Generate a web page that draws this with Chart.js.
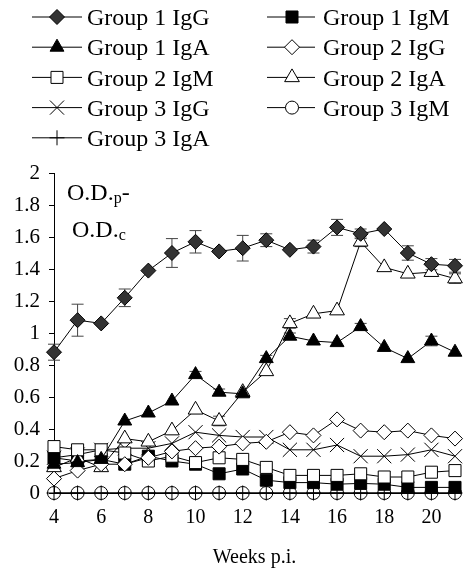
<!DOCTYPE html>
<html>
<head>
<meta charset="utf-8">
<script src="https://cdn.jsdelivr.net/npm/chart.js@4.4.1/dist/chart.umd.min.js"></script>
<style>
  html, body { margin: 0; padding: 0; background: #fff; }
  #wrap { width: 466px; height: 570px; }
</style>
</head>
<body>
<div id="wrap"><canvas id="chart" width="466" height="570"></canvas></div>
<script>
// weeks post infection
const weeks = [4, 5, 6, 7, 8, 9, 10, 11, 12, 13, 14, 15, 16, 17, 18, 19, 20, 21];

// O.D.p - O.D.c per series
const g1IgG = [0.88, 1.08, 1.06, 1.22, 1.39, 1.50, 1.57, 1.51, 1.53, 1.58, 1.52, 1.54, 1.66, 1.62, 1.65, 1.50, 1.43, 1.42];
const g1IgM = [0.22, 0.20, 0.21, 0.18, 0.23, 0.20, 0.18, 0.12, 0.15, 0.08, 0.065, 0.065, 0.055, 0.06, 0.055, 0.035, 0.035, 0.035];
const g1IgA = [0.18, 0.19, 0.21, 0.45, 0.50, 0.575, 0.74, 0.63, 0.62, 0.84, 0.98, 0.95, 0.94, 1.04, 0.91, 0.84, 0.95, 0.88];
const g2IgG = [0.09, 0.14, 0.18, 0.18, 0.22, 0.26, 0.28, 0.29, 0.31, 0.32, 0.38, 0.36, 0.46, 0.39, 0.38, 0.39, 0.36, 0.34];
const g2IgM = [0.29, 0.27, 0.27, 0.25, 0.20, 0.23, 0.19, 0.22, 0.21, 0.16, 0.11, 0.11, 0.11, 0.12, 0.10, 0.10, 0.13, 0.14];
const g2IgA = [0.16, 0.22, 0.16, 0.34, 0.32, 0.39, 0.52, 0.45, 0.63, 0.76, 1.06, 1.12, 1.14, 1.57, 1.41, 1.37, 1.38, 1.34];
const g3IgG = [0.22, 0.24, 0.27, 0.28, 0.28, 0.31, 0.38, 0.36, 0.35, 0.35, 0.27, 0.27, 0.30, 0.23, 0.23, 0.24, 0.27, 0.23];
const g3IgM = [0, 0, 0, 0, 0, 0, 0, 0, 0, 0, 0, 0, 0, 0, 0, 0, 0, 0];
const g3IgA = [0, 0, 0, 0, 0, 0, 0, 0, 0, 0, 0, 0, 0, 0, 0, 0, 0, 0];

// error bars (+/-)
const g1IgGErr = [0.05, 0.10, 0, 0.055, 0, 0.09, 0.07, 0, 0.08, 0.04, 0, 0.04, 0.05, 0.03, 0, 0.045, 0.035, 0.04];
const g1IgAErr = [0, 0, 0, 0, 0, 0, 0.02, 0.02, 0, 0.02, 0.02, 0, 0, 0.02, 0, 0, 0.03, 0];
const g2IgAErr = [0, 0, 0, 0, 0, 0, 0, 0.03, 0, 0, 0.03, 0, 0, 0.03, 0, 0, 0, 0.03];

const yTicks = [0, 0.2, 0.4, 0.6, 0.8, 1, 1.2, 1.4, 1.6, 1.8, 2];
const xTicks = [4, 6, 8, 10, 12, 14, 16, 18, 20];

const FONT = '"Liberation Serif", "Times New Roman", serif';

function pts(vals) {
    return weeks.map((w, i) => ({ x: w, y: vals[i] }));
}

function series(label, vals, style, radius, fill, extra) {
    return Object.assign({
        label: label,
        data: pts(vals),
        borderColor: '#000',
        borderWidth: 1,
        pointStyle: style,
        pointRadius: radius,
        pointHoverRadius: radius,
        pointBackgroundColor: fill,
        pointBorderColor: '#000',
        pointBorderWidth: 1,
        tension: 0,
        clip: false
    }, extra || {});
}

const datasets = [
    series('Group 1 IgG', g1IgG, 'rectRot', 7.5, '#333', { errors: g1IgGErr }),
    series('Group 1 IgM', g1IgM, 'rect', 8.5, '#000', { order: 1 }),
    series('Group 1 IgA', g1IgA, 'triangle', 8, '#000', { errors: g1IgAErr }),
    series('Group 2 IgG', g2IgG, 'rectRot', 7.5, '#fff'),
    series('Group 2 IgM', g2IgM, 'rect', 8.5, '#fff'),
    series('Group 2 IgA', g2IgA, 'triangle', 8.5, '#fff', { errors: g2IgAErr }),
    series('Group 3 IgG', g3IgG, 'crossRot', 10, '#fff'),
    series('Group 3 IgM', g3IgM, 'circle', 6.5, 'rgba(255,255,255,0)', { legendFill: '#fff' }),
    series('Group 3 IgA', g3IgA, 'cross', 7.5, '#fff', { order: -1 })
];

// vertical error bars drawn under the markers
const errorBars = {
    id: 'errorBars',
    beforeDatasetsDraw(chart) {
        const ctx = chart.ctx;
        const ys = chart.scales.y;
        ctx.save();
        ctx.strokeStyle = '#444';
        ctx.lineWidth = 1;
        chart.data.datasets.forEach((ds, i) => {
            if (!ds.errors) return;
            const meta = chart.getDatasetMeta(i);
            meta.data.forEach((pt, j) => {
                const e = ds.errors[j];
                if (!e) return;
                const v = ds.data[j].y;
                const top = ys.getPixelForValue(v + e);
                const bot = ys.getPixelForValue(v - e);
                ctx.beginPath();
                ctx.moveTo(pt.x, top); ctx.lineTo(pt.x, bot);
                ctx.moveTo(pt.x - 6, top); ctx.lineTo(pt.x + 6, top);
                ctx.moveTo(pt.x - 6, bot); ctx.lineTo(pt.x + 6, bot);
                ctx.stroke();
            });
        });
        ctx.restore();
    }
};

// two column legend above the plot, line through each marker
const lineLegend = {
    id: 'lineLegend',
    afterDraw(chart) {
        const ctx = chart.ctx;
        ctx.save();
        chart.data.datasets.forEach((ds, i) => {
            const col = i % 2;
            const row = Math.floor(i / 2);
            const y = 17 + row * 30.2;
            const x0 = col ? 267 : 32, x1 = col ? 315 : 82;
            const mx = col ? 292 : 57, tx = col ? 323 : 87;
            ctx.strokeStyle = '#000';
            ctx.lineWidth = 1;
            ctx.beginPath();
            ctx.moveTo(x0, y); ctx.lineTo(x1, y);
            ctx.stroke();
            ctx.fillStyle = ds.legendFill || ds.pointBackgroundColor;
            Chart.helpers.drawPoint(ctx, {
                pointStyle: ds.pointStyle,
                radius: ds.pointRadius,
                borderWidth: 1,
                rotation: 0
            }, mx, y);
            ctx.fillStyle = '#000';
            ctx.font = '24px ' + FONT;
            ctx.textBaseline = 'middle';
            ctx.textAlign = 'left';
            ctx.fillText(ds.label, tx, y + 2);
        });
        ctx.restore();
    }
};

// "O.D.p - O.D.c" note in the plot corner
const odNote = {
    id: 'odNote',
    afterDraw(chart) {
        const ctx = chart.ctx;
        ctx.save();
        ctx.fillStyle = '#000';
        ctx.textBaseline = 'alphabetic';
        ctx.textAlign = 'left';
        ctx.font = '24px ' + FONT;
        let x = 67;
        ctx.fillText('O.D.', x, 200);
        x += ctx.measureText('O.D.').width;
        ctx.font = '16px ' + FONT;
        ctx.fillText('p', x, 203);
        x += ctx.measureText('p').width;
        ctx.font = '24px ' + FONT;
        ctx.fillText('-', x, 200);

        x = 72;
        ctx.fillText('O.D.', x, 237);
        x += ctx.measureText('O.D.').width;
        ctx.font = '16px ' + FONT;
        ctx.fillText('c', x, 240);
        ctx.restore();
    }
};

const config = {
    type: 'line',
    data: { datasets: datasets },
    options: {
        responsive: false,
        animation: false,
        devicePixelRatio: 1,
        layout: { padding: { top: 173, right: 4, bottom: 0, left: 0 } },
        plugins: {
            legend: { display: false },
            tooltip: { enabled: false }
        },
        scales: {
            x: {
                type: 'linear',
                min: 4,
                max: 21,
                afterFit: s => { s.height = 77; },
                afterBuildTicks: s => { s.ticks = xTicks.map(v => ({ value: v })); },
                grid: { display: false, drawTicks: false },
                border: { display: true, color: '#000', width: 1 },
                ticks: {
                    color: '#000',
                    padding: 13,
                    maxRotation: 0,
                    autoSkip: false,
                    font: { family: FONT, size: 20 }
                },
                title: {
                    display: true,
                    text: 'Weeks p.i.',
                    color: '#000',
                    padding: { top: 0, bottom: 0 },
                    font: { family: FONT, size: 20 }
                }
            },
            y: {
                min: 0,
                max: 2,
                afterFit: s => { s.width = 54; },
                afterBuildTicks: s => { s.ticks = yTicks.map(v => ({ value: v })); },
                grid: { drawOnChartArea: false, drawTicks: true, tickLength: 5, color: '#000' },
                border: { display: true, color: '#000', width: 1 },
                ticks: {
                    color: '#000',
                    padding: 9,
                    font: { family: FONT, size: 21 },
                    callback: v => String(Number(v.toFixed(1)))
                }
            }
        }
    },
    plugins: [errorBars, lineLegend, odNote]
};

new Chart(document.getElementById('chart'), config);
</script>
</body>
</html>
